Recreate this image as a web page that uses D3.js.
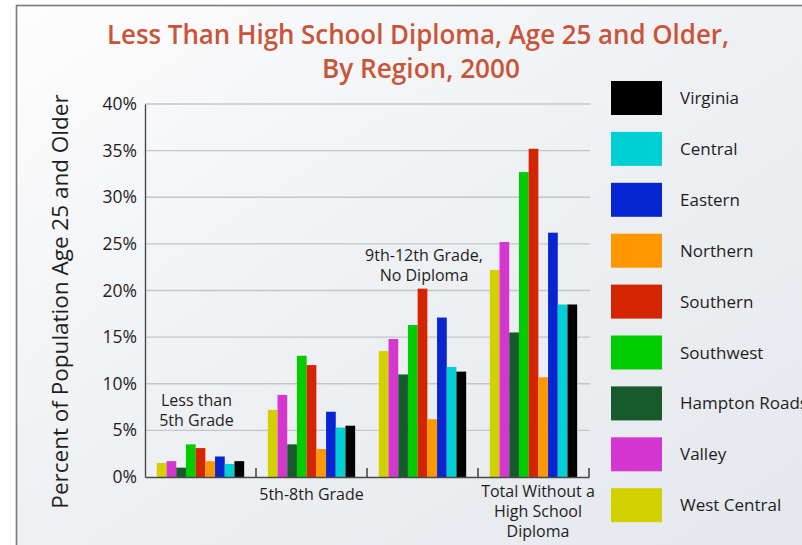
<!DOCTYPE html>
<html>
<head>
<meta charset="utf-8">
<script src="https://cdn.jsdelivr.net/npm/d3@7"></script>
<style>
  html, body { margin: 0; padding: 0; background: #ffffff; }
  svg { display: block; }
  text { font-family: "Open Sans", "Noto Sans", sans-serif; fill: #1e1e1e; }
</style>
</head>
<body>
<svg id="chart" width="802" height="545"></svg>
<script>
// Educational attainment groups (x categories)
const groups = ["Less than 5th Grade", "5th-8th Grade", "9th-12th Grade, No Diploma", "Total Without a High School Diploma"];

// Regions, in bar order within each group (left to right)
const regions = ["West Central", "Valley", "Hampton Roads", "Southwest", "Southern", "Northern", "Eastern", "Central", "Virginia"];
const regionColors = ["#d3d000", "#d536d0", "#175a2b", "#00cc00", "#d52500", "#ff9800", "#0726d2", "#00d0d4", "#000000"];

// Percent of population age 25+, one array per region across the four groups
const westCentral  = [1.5, 7.2, 13.5, 22.2];
const valley       = [1.7, 8.8, 14.8, 25.2];
const hamptonRoads = [1.0, 3.5, 11.0, 15.5];
const southwest    = [3.5, 13.0, 16.3, 32.7];
const southern     = [3.1, 12.0, 20.2, 35.2];
const northern     = [1.7, 3.0, 6.2, 10.7];
const eastern      = [2.2, 7.0, 17.1, 26.2];
const central      = [1.4, 5.3, 11.8, 18.5];
const virginia     = [1.7, 5.5, 11.3, 18.5];
const seriesValues = [westCentral, valley, hamptonRoads, southwest, southern, northern, eastern, central, virginia];

// Y axis ticks
const yTicks = [0, 5, 10, 15, 20, 25, 30, 35, 40];
const yTickLabels = ["0%", "5%", "10%", "15%", "20%", "25%", "30%", "35%", "40%"];

// Legend order (top to bottom)
const legendOrder = ["Virginia", "Central", "Eastern", "Northern", "Southern", "Southwest", "Hampton Roads", "Valley", "West Central"];

// Group label lines
const groupLabelLines = [["Less than", "5th Grade"], ["5th-8th Grade"], ["9th-12th Grade,", "No Diploma"], ["Total Without a", "High School", "Diploma"]];

const svg = d3.select("#chart");
const W = 802, H = 545;

// Background gradient panel with a frame
const defs = svg.append("defs");
const grad = defs.append("linearGradient").attr("id", "bg")
  .attr("x1", "0%").attr("y1", "0%").attr("x2", "100%").attr("y2", "100%");
grad.append("stop").attr("offset", "0%").attr("stop-color", "#fdfdfd");
grad.append("stop").attr("offset", "45%").attr("stop-color", "#eff1f4");
grad.append("stop").attr("offset", "100%").attr("stop-color", "#e4e7ec");

svg.append("rect").attr("width", W).attr("height", H).attr("fill", "#ffffff");
svg.append("rect").attr("x", 16.5).attr("y", 5.5).attr("width", W).attr("height", H)
  .attr("fill", "url(#bg)").attr("stroke", "#7a7a7a").attr("stroke-width", 1.6);

// Scales
const plot = { left: 145, right: 589, top: 104, bottom: 477 };
const x0 = d3.scaleBand().domain(groups).range([plot.left, plot.right]).padding(0);
const x1 = d3.scaleBand().domain(regions).range([0, x0.bandwidth()]).paddingInner(0).paddingOuter(1.22);
const y = d3.scaleLinear().domain([0, 40]).range([plot.bottom, plot.top]);
const color = d3.scaleOrdinal().domain(regions).range(regionColors);

// Gridlines
svg.append("g").selectAll("line").data(yTicks.filter(d => d > 0)).join("line")
  .attr("x1", plot.left).attr("x2", plot.right + 1)
  .attr("y1", d => y(d)).attr("y2", d => y(d))
  .attr("stroke", "#c4c6c9").attr("stroke-width", 1.4);

// Y axis
const yAxis = d3.axisLeft(y).tickValues(yTicks).tickSize(0).tickPadding(8)
  .tickFormat((d, i) => yTickLabels[i]);
const gy = svg.append("g").attr("transform", `translate(${plot.left},0)`).call(yAxis);
gy.select(".domain").attr("stroke", "#4a4a4a").attr("stroke-width", 1.4);
gy.selectAll("text").style("font-family", "'Open Sans', sans-serif").style("font-size", "17.5px").attr("fill", "#1e1e1e");

// Bars
const rows = groups.map((g, gi) => ({ group: g, values: regions.map((r, ri) => ({ region: r, value: seriesValues[ri][gi] })) }));
const gGroups = svg.append("g").selectAll("g").data(rows).join("g")
  .attr("transform", d => `translate(${x0(d.group)},0)`);
gGroups.selectAll("rect").data(d => d.values).join("rect")
  .attr("x", d => x1(d.region))
  .attr("y", d => y(d.value))
  .attr("width", x1.bandwidth())
  .attr("height", d => y(0) - y(d.value))
  .attr("fill", d => color(d.region));

// X axis baseline with inward ticks at group boundaries
const xAxis = d3.axisBottom(x0).tickSize(0).tickFormat("");
const gx = svg.append("g").attr("transform", `translate(0,${plot.bottom})`).call(xAxis);
gx.select(".domain").attr("stroke", "#4a4a4a").attr("stroke-width", 1.4);
const boundaries = groups.map(g => x0(g) + x0.bandwidth());
svg.append("g").selectAll("line").data(boundaries).join("line")
  .attr("x1", d => d).attr("x2", d => d)
  .attr("y1", plot.bottom).attr("y2", plot.bottom - 9)
  .attr("stroke", "#333").attr("stroke-width", 1.4);

// Group labels
const labelPos = [
  { dx: -4, y: 406 },
  { dx: 0, y: 500 },
  { dx: 1.5, y: 261 },
  { dx: 4.5, y: 497 }
];
groups.forEach((g, gi) => {
  const cx = x0(g) + x0.bandwidth() / 2 + labelPos[gi].dx;
  const t = svg.append("text").attr("text-anchor", "middle").style("font-size", "16px");
  groupLabelLines[gi].forEach((line, li) => {
    t.append("tspan").attr("x", cx).attr("y", labelPos[gi].y + li * 20).text(line);
  });
});

// Y axis title
svg.append("text")
  .attr("transform", `translate(68,${301.5}) rotate(-90)`)
  .attr("text-anchor", "middle")
  .style("font-size", "22.5px")
  .text("Percent of Population Age 25 and Older");

// Title
const title = svg.append("g");
title.append("text").attr("x", 418).attr("y", 44).attr("text-anchor", "middle")
  .attr("textLength", 622).attr("lengthAdjust", "spacingAndGlyphs")
  .style("font-size", "27px").style("font-weight", 600).style("fill", "#c8553a")
  .text("Less Than High School Diploma, Age 25 and Older,");
title.append("text").attr("x", 421).attr("y", 78).attr("text-anchor", "middle")
  .attr("textLength", 198).attr("lengthAdjust", "spacingAndGlyphs")
  .style("font-size", "27px").style("font-weight", 600).style("fill", "#c8553a")
  .text("By Region, 2000");

// Legend
const legend = svg.append("g").attr("transform", "translate(611,81)");
const li = legend.selectAll("g").data(legendOrder).join("g")
  .attr("transform", (d, i) => `translate(0,${i * 50.9})`);
li.append("rect").attr("width", 51).attr("height", 34).attr("fill", d => color(d));
li.append("text").attr("x", 69).attr("y", 23).style("font-size", "17px").text(d => d);
</script>
</body>
</html>
